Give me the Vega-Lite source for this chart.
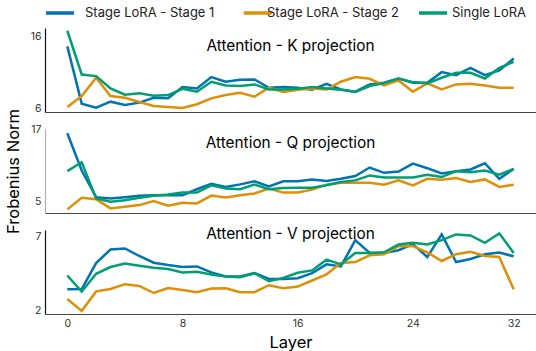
{
  "$schema": "https://vega.github.io/schema/vega-lite/v6.json",
  "padding": {"left": 4, "top": 4, "right": 0, "bottom": 0},
  "bounds": "flush",
  "spacing": 17,
  "config": {
    "font": "Inter",
    "view": {"stroke": null},
    "axis": {"grid": false, "ticks": false, "labelFontSize": 10.5, "labelColor": "#333333", "domainColor": "#333333", "domainWidth": 1.2, "labelPadding": 4, "titleFontWeight": "normal", "titleFontSize": 16.5, "titleColor": "#000000", "labelFont": "Inter", "titleFont": "Inter"},
    "title": {"font": "Inter", "fontSize": 15.4, "fontWeight": "normal", "color": "#000000"},
    "legend": {"labelFont": "Inter", "labelFontSize": 13, "labelColor": "#222222"}
  },
  "resolve": {"scale": {"color": "shared"}, "legend": {"color": "shared"}},
  "datasets": {
    "d": [
      {"p":"K","l":0,"s":"Stage LoRA - Stage 1","v":14.62},{"p":"K","l":1,"s":"Stage LoRA - Stage 1","v":6.69},{"p":"K","l":2,"s":"Stage LoRA - Stage 1","v":6.14},{"p":"K","l":3,"s":"Stage LoRA - Stage 1","v":6.96},{"p":"K","l":4,"s":"Stage LoRA - Stage 1","v":6.5},{"p":"K","l":5,"s":"Stage LoRA - Stage 1","v":6.83},{"p":"K","l":6,"s":"Stage LoRA - Stage 1","v":7.51},{"p":"K","l":7,"s":"Stage LoRA - Stage 1","v":7.42},{"p":"K","l":8,"s":"Stage LoRA - Stage 1","v":8.98},{"p":"K","l":9,"s":"Stage LoRA - Stage 1","v":8.8},{"p":"K","l":10,"s":"Stage LoRA - Stage 1","v":10.36},{"p":"K","l":11,"s":"Stage LoRA - Stage 1","v":9.72},{"p":"K","l":12,"s":"Stage LoRA - Stage 1","v":9.99},{"p":"K","l":13,"s":"Stage LoRA - Stage 1","v":10.04},{"p":"K","l":14,"s":"Stage LoRA - Stage 1","v":8.89},{"p":"K","l":15,"s":"Stage LoRA - Stage 1","v":8.98},{"p":"K","l":16,"s":"Stage LoRA - Stage 1","v":8.89},{"p":"K","l":17,"s":"Stage LoRA - Stage 1","v":8.61},{"p":"K","l":18,"s":"Stage LoRA - Stage 1","v":9.44},{"p":"K","l":19,"s":"Stage LoRA - Stage 1","v":8.66},{"p":"K","l":20,"s":"Stage LoRA - Stage 1","v":8.34},{"p":"K","l":21,"s":"Stage LoRA - Stage 1","v":9.35},{"p":"K","l":22,"s":"Stage LoRA - Stage 1","v":9.58},{"p":"K","l":23,"s":"Stage LoRA - Stage 1","v":10.17},{"p":"K","l":24,"s":"Stage LoRA - Stage 1","v":9.58},{"p":"K","l":25,"s":"Stage LoRA - Stage 1","v":9.58},{"p":"K","l":26,"s":"Stage LoRA - Stage 1","v":11.05},{"p":"K","l":27,"s":"Stage LoRA - Stage 1","v":10.63},{"p":"K","l":28,"s":"Stage LoRA - Stage 1","v":11.64},{"p":"K","l":29,"s":"Stage LoRA - Stage 1","v":10.63},{"p":"K","l":30,"s":"Stage LoRA - Stage 1","v":11.28},{"p":"K","l":31,"s":"Stage LoRA - Stage 1","v":12.93},
      {"p":"K","l":0,"s":"Stage LoRA - Stage 2","v":6.23},{"p":"K","l":1,"s":"Stage LoRA - Stage 2","v":7.74},{"p":"K","l":2,"s":"Stage LoRA - Stage 2","v":10.27},{"p":"K","l":3,"s":"Stage LoRA - Stage 2","v":7.74},{"p":"K","l":4,"s":"Stage LoRA - Stage 2","v":7.51},{"p":"K","l":5,"s":"Stage LoRA - Stage 2","v":6.92},{"p":"K","l":6,"s":"Stage LoRA - Stage 2","v":6.37},{"p":"K","l":7,"s":"Stage LoRA - Stage 2","v":6.23},{"p":"K","l":8,"s":"Stage LoRA - Stage 2","v":6.1},{"p":"K","l":9,"s":"Stage LoRA - Stage 2","v":6.6},{"p":"K","l":10,"s":"Stage LoRA - Stage 2","v":7.42},{"p":"K","l":11,"s":"Stage LoRA - Stage 2","v":7.88},{"p":"K","l":12,"s":"Stage LoRA - Stage 2","v":8.2},{"p":"K","l":13,"s":"Stage LoRA - Stage 2","v":7.65},{"p":"K","l":14,"s":"Stage LoRA - Stage 2","v":8.89},{"p":"K","l":15,"s":"Stage LoRA - Stage 2","v":8.29},{"p":"K","l":16,"s":"Stage LoRA - Stage 2","v":8.61},{"p":"K","l":17,"s":"Stage LoRA - Stage 2","v":8.8},{"p":"K","l":18,"s":"Stage LoRA - Stage 2","v":8.66},{"p":"K","l":19,"s":"Stage LoRA - Stage 2","v":9.72},{"p":"K","l":20,"s":"Stage LoRA - Stage 2","v":10.36},{"p":"K","l":21,"s":"Stage LoRA - Stage 2","v":10.13},{"p":"K","l":22,"s":"Stage LoRA - Stage 2","v":9.21},{"p":"K","l":23,"s":"Stage LoRA - Stage 2","v":9.9},{"p":"K","l":24,"s":"Stage LoRA - Stage 2","v":8.34},{"p":"K","l":25,"s":"Stage LoRA - Stage 2","v":9.49},{"p":"K","l":26,"s":"Stage LoRA - Stage 2","v":8.66},{"p":"K","l":27,"s":"Stage LoRA - Stage 2","v":9.35},{"p":"K","l":28,"s":"Stage LoRA - Stage 2","v":9.44},{"p":"K","l":29,"s":"Stage LoRA - Stage 2","v":9.21},{"p":"K","l":30,"s":"Stage LoRA - Stage 2","v":8.89},{"p":"K","l":31,"s":"Stage LoRA - Stage 2","v":8.89},
      {"p":"K","l":0,"s":"Single LoRA","v":16.78},{"p":"K","l":1,"s":"Single LoRA","v":10.72},{"p":"K","l":2,"s":"Single LoRA","v":10.5},{"p":"K","l":3,"s":"Single LoRA","v":8.8},{"p":"K","l":4,"s":"Single LoRA","v":7.93},{"p":"K","l":5,"s":"Single LoRA","v":8.11},{"p":"K","l":6,"s":"Single LoRA","v":7.79},{"p":"K","l":7,"s":"Single LoRA","v":7.88},{"p":"K","l":8,"s":"Single LoRA","v":8.75},{"p":"K","l":9,"s":"Single LoRA","v":8.34},{"p":"K","l":10,"s":"Single LoRA","v":9.72},{"p":"K","l":11,"s":"Single LoRA","v":9.21},{"p":"K","l":12,"s":"Single LoRA","v":9.12},{"p":"K","l":13,"s":"Single LoRA","v":9.35},{"p":"K","l":14,"s":"Single LoRA","v":8.66},{"p":"K","l":15,"s":"Single LoRA","v":8.66},{"p":"K","l":16,"s":"Single LoRA","v":8.75},{"p":"K","l":17,"s":"Single LoRA","v":8.98},{"p":"K","l":18,"s":"Single LoRA","v":8.8},{"p":"K","l":19,"s":"Single LoRA","v":8.61},{"p":"K","l":20,"s":"Single LoRA","v":8.29},{"p":"K","l":21,"s":"Single LoRA","v":9.12},{"p":"K","l":22,"s":"Single LoRA","v":9.53},{"p":"K","l":23,"s":"Single LoRA","v":10.17},{"p":"K","l":24,"s":"Single LoRA","v":9.67},{"p":"K","l":25,"s":"Single LoRA","v":9.49},{"p":"K","l":26,"s":"Single LoRA","v":10.27},{"p":"K","l":27,"s":"Single LoRA","v":10.95},{"p":"K","l":28,"s":"Single LoRA","v":10.95},{"p":"K","l":29,"s":"Single LoRA","v":10.17},{"p":"K","l":30,"s":"Single LoRA","v":11.64},{"p":"K","l":31,"s":"Single LoRA","v":12.47},
      {"p":"Q","l":0,"s":"Stage LoRA - Stage 1","v":16.29},{"p":"Q","l":1,"s":"Stage LoRA - Stage 1","v":10.13},{"p":"Q","l":2,"s":"Stage LoRA - Stage 1","v":5.71},{"p":"Q","l":3,"s":"Stage LoRA - Stage 1","v":5.49},{"p":"Q","l":4,"s":"Stage LoRA - Stage 1","v":5.71},{"p":"Q","l":5,"s":"Stage LoRA - Stage 1","v":5.93},{"p":"Q","l":6,"s":"Stage LoRA - Stage 1","v":6.03},{"p":"Q","l":7,"s":"Stage LoRA - Stage 1","v":6.03},{"p":"Q","l":8,"s":"Stage LoRA - Stage 1","v":6.03},{"p":"Q","l":9,"s":"Stage LoRA - Stage 1","v":7.02},{"p":"Q","l":10,"s":"Stage LoRA - Stage 1","v":7.94},{"p":"Q","l":11,"s":"Stage LoRA - Stage 1","v":7.4},{"p":"Q","l":12,"s":"Stage LoRA - Stage 1","v":7.83},{"p":"Q","l":13,"s":"Stage LoRA - Stage 1","v":8.33},{"p":"Q","l":14,"s":"Stage LoRA - Stage 1","v":7.51},{"p":"Q","l":15,"s":"Stage LoRA - Stage 1","v":8.33},{"p":"Q","l":16,"s":"Stage LoRA - Stage 1","v":8.33},{"p":"Q","l":17,"s":"Stage LoRA - Stage 1","v":8.65},{"p":"Q","l":18,"s":"Stage LoRA - Stage 1","v":8.38},{"p":"Q","l":19,"s":"Stage LoRA - Stage 1","v":8.76},{"p":"Q","l":20,"s":"Stage LoRA - Stage 1","v":9.2},{"p":"Q","l":21,"s":"Stage LoRA - Stage 1","v":10.62},{"p":"Q","l":22,"s":"Stage LoRA - Stage 1","v":9.74},{"p":"Q","l":23,"s":"Stage LoRA - Stage 1","v":9.96},{"p":"Q","l":24,"s":"Stage LoRA - Stage 1","v":11.27},{"p":"Q","l":25,"s":"Stage LoRA - Stage 1","v":10.51},{"p":"Q","l":26,"s":"Stage LoRA - Stage 1","v":9.63},{"p":"Q","l":27,"s":"Stage LoRA - Stage 1","v":10.02},{"p":"Q","l":28,"s":"Stage LoRA - Stage 1","v":10.29},{"p":"Q","l":29,"s":"Stage LoRA - Stage 1","v":11.33},{"p":"Q","l":30,"s":"Stage LoRA - Stage 1","v":8.76},{"p":"Q","l":31,"s":"Stage LoRA - Stage 1","v":10.4},
      {"p":"Q","l":0,"s":"Stage LoRA - Stage 2","v":3.69},{"p":"Q","l":1,"s":"Stage LoRA - Stage 2","v":5.6},{"p":"Q","l":2,"s":"Stage LoRA - Stage 2","v":5.38},{"p":"Q","l":3,"s":"Stage LoRA - Stage 2","v":3.85},{"p":"Q","l":4,"s":"Stage LoRA - Stage 2","v":4.12},{"p":"Q","l":5,"s":"Stage LoRA - Stage 2","v":4.4},{"p":"Q","l":6,"s":"Stage LoRA - Stage 2","v":5.05},{"p":"Q","l":7,"s":"Stage LoRA - Stage 2","v":4.29},{"p":"Q","l":8,"s":"Stage LoRA - Stage 2","v":4.78},{"p":"Q","l":9,"s":"Stage LoRA - Stage 2","v":4.67},{"p":"Q","l":10,"s":"Stage LoRA - Stage 2","v":5.98},{"p":"Q","l":11,"s":"Stage LoRA - Stage 2","v":5.65},{"p":"Q","l":12,"s":"Stage LoRA - Stage 2","v":6.03},{"p":"Q","l":13,"s":"Stage LoRA - Stage 2","v":6.31},{"p":"Q","l":14,"s":"Stage LoRA - Stage 2","v":7.13},{"p":"Q","l":15,"s":"Stage LoRA - Stage 2","v":6.47},{"p":"Q","l":16,"s":"Stage LoRA - Stage 2","v":6.47},{"p":"Q","l":17,"s":"Stage LoRA - Stage 2","v":6.96},{"p":"Q","l":18,"s":"Stage LoRA - Stage 2","v":7.78},{"p":"Q","l":19,"s":"Stage LoRA - Stage 2","v":8.11},{"p":"Q","l":20,"s":"Stage LoRA - Stage 2","v":8.11},{"p":"Q","l":21,"s":"Stage LoRA - Stage 2","v":8.11},{"p":"Q","l":22,"s":"Stage LoRA - Stage 2","v":7.78},{"p":"Q","l":23,"s":"Stage LoRA - Stage 2","v":8.49},{"p":"Q","l":24,"s":"Stage LoRA - Stage 2","v":7.67},{"p":"Q","l":25,"s":"Stage LoRA - Stage 2","v":8.76},{"p":"Q","l":26,"s":"Stage LoRA - Stage 2","v":8.6},{"p":"Q","l":27,"s":"Stage LoRA - Stage 2","v":8.87},{"p":"Q","l":28,"s":"Stage LoRA - Stage 2","v":8.22},{"p":"Q","l":29,"s":"Stage LoRA - Stage 2","v":8.65},{"p":"Q","l":30,"s":"Stage LoRA - Stage 2","v":7.4},{"p":"Q","l":31,"s":"Stage LoRA - Stage 2","v":7.78},
      {"p":"Q","l":0,"s":"Single LoRA","v":10.02},{"p":"Q","l":1,"s":"Single LoRA","v":11.49},{"p":"Q","l":2,"s":"Single LoRA","v":5.49},{"p":"Q","l":3,"s":"Single LoRA","v":4.94},{"p":"Q","l":4,"s":"Single LoRA","v":5.22},{"p":"Q","l":5,"s":"Single LoRA","v":5.6},{"p":"Q","l":6,"s":"Single LoRA","v":5.93},{"p":"Q","l":7,"s":"Single LoRA","v":6.14},{"p":"Q","l":8,"s":"Single LoRA","v":6.47},{"p":"Q","l":9,"s":"Single LoRA","v":6.47},{"p":"Q","l":10,"s":"Single LoRA","v":7.67},{"p":"Q","l":11,"s":"Single LoRA","v":7.13},{"p":"Q","l":12,"s":"Single LoRA","v":7.02},{"p":"Q","l":13,"s":"Single LoRA","v":7.78},{"p":"Q","l":14,"s":"Single LoRA","v":7.02},{"p":"Q","l":15,"s":"Single LoRA","v":7.23},{"p":"Q","l":16,"s":"Single LoRA","v":7.29},{"p":"Q","l":17,"s":"Single LoRA","v":7.29},{"p":"Q","l":18,"s":"Single LoRA","v":7.67},{"p":"Q","l":19,"s":"Single LoRA","v":8.22},{"p":"Q","l":20,"s":"Single LoRA","v":8.49},{"p":"Q","l":21,"s":"Single LoRA","v":9.31},{"p":"Q","l":22,"s":"Single LoRA","v":8.98},{"p":"Q","l":23,"s":"Single LoRA","v":8.98},{"p":"Q","l":24,"s":"Single LoRA","v":8.98},{"p":"Q","l":25,"s":"Single LoRA","v":9.42},{"p":"Q","l":26,"s":"Single LoRA","v":9.04},{"p":"Q","l":27,"s":"Single LoRA","v":10.02},{"p":"Q","l":28,"s":"Single LoRA","v":9.85},{"p":"Q","l":29,"s":"Single LoRA","v":10.13},{"p":"Q","l":30,"s":"Single LoRA","v":9.42},{"p":"Q","l":31,"s":"Single LoRA","v":10.4},
      {"p":"V","l":0,"s":"Stage LoRA - Stage 1","v":3.42},{"p":"V","l":1,"s":"Stage LoRA - Stage 1","v":3.44},{"p":"V","l":2,"s":"Stage LoRA - Stage 1","v":5.21},{"p":"V","l":3,"s":"Stage LoRA - Stage 1","v":6.13},{"p":"V","l":4,"s":"Stage LoRA - Stage 1","v":6.2},{"p":"V","l":5,"s":"Stage LoRA - Stage 1","v":5.69},{"p":"V","l":6,"s":"Stage LoRA - Stage 1","v":5.23},{"p":"V","l":7,"s":"Stage LoRA - Stage 1","v":5.07},{"p":"V","l":8,"s":"Stage LoRA - Stage 1","v":4.94},{"p":"V","l":9,"s":"Stage LoRA - Stage 1","v":4.98},{"p":"V","l":10,"s":"Stage LoRA - Stage 1","v":4.57},{"p":"V","l":11,"s":"Stage LoRA - Stage 1","v":4.29},{"p":"V","l":12,"s":"Stage LoRA - Stage 1","v":4.29},{"p":"V","l":13,"s":"Stage LoRA - Stage 1","v":4.52},{"p":"V","l":14,"s":"Stage LoRA - Stage 1","v":4.13},{"p":"V","l":15,"s":"Stage LoRA - Stage 1","v":4.13},{"p":"V","l":16,"s":"Stage LoRA - Stage 1","v":4.18},{"p":"V","l":17,"s":"Stage LoRA - Stage 1","v":4.52},{"p":"V","l":18,"s":"Stage LoRA - Stage 1","v":5.12},{"p":"V","l":19,"s":"Stage LoRA - Stage 1","v":4.98},{"p":"V","l":20,"s":"Stage LoRA - Stage 1","v":6.77},{"p":"V","l":21,"s":"Stage LoRA - Stage 1","v":5.9},{"p":"V","l":22,"s":"Stage LoRA - Stage 1","v":5.9},{"p":"V","l":23,"s":"Stage LoRA - Stage 1","v":6.08},{"p":"V","l":24,"s":"Stage LoRA - Stage 1","v":6.5},{"p":"V","l":25,"s":"Stage LoRA - Stage 1","v":5.62},{"p":"V","l":26,"s":"Stage LoRA - Stage 1","v":7.16},{"p":"V","l":27,"s":"Stage LoRA - Stage 1","v":5.28},{"p":"V","l":28,"s":"Stage LoRA - Stage 1","v":5.49},{"p":"V","l":29,"s":"Stage LoRA - Stage 1","v":5.81},{"p":"V","l":30,"s":"Stage LoRA - Stage 1","v":5.92},{"p":"V","l":31,"s":"Stage LoRA - Stage 1","v":5.67},
      {"p":"V","l":0,"s":"Stage LoRA - Stage 2","v":2.76},{"p":"V","l":1,"s":"Stage LoRA - Stage 2","v":1.95},{"p":"V","l":2,"s":"Stage LoRA - Stage 2","v":3.28},{"p":"V","l":3,"s":"Stage LoRA - Stage 2","v":3.44},{"p":"V","l":4,"s":"Stage LoRA - Stage 2","v":3.77},{"p":"V","l":5,"s":"Stage LoRA - Stage 2","v":3.65},{"p":"V","l":6,"s":"Stage LoRA - Stage 2","v":3.17},{"p":"V","l":7,"s":"Stage LoRA - Stage 2","v":3.51},{"p":"V","l":8,"s":"Stage LoRA - Stage 2","v":3.38},{"p":"V","l":9,"s":"Stage LoRA - Stage 2","v":3.22},{"p":"V","l":10,"s":"Stage LoRA - Stage 2","v":3.47},{"p":"V","l":11,"s":"Stage LoRA - Stage 2","v":3.49},{"p":"V","l":12,"s":"Stage LoRA - Stage 2","v":3.22},{"p":"V","l":13,"s":"Stage LoRA - Stage 2","v":3.22},{"p":"V","l":14,"s":"Stage LoRA - Stage 2","v":3.7},{"p":"V","l":15,"s":"Stage LoRA - Stage 2","v":3.49},{"p":"V","l":16,"s":"Stage LoRA - Stage 2","v":3.61},{"p":"V","l":17,"s":"Stage LoRA - Stage 2","v":4.02},{"p":"V","l":18,"s":"Stage LoRA - Stage 2","v":4.43},{"p":"V","l":19,"s":"Stage LoRA - Stage 2","v":5.21},{"p":"V","l":20,"s":"Stage LoRA - Stage 2","v":5.28},{"p":"V","l":21,"s":"Stage LoRA - Stage 2","v":5.74},{"p":"V","l":22,"s":"Stage LoRA - Stage 2","v":5.81},{"p":"V","l":23,"s":"Stage LoRA - Stage 2","v":6.36},{"p":"V","l":24,"s":"Stage LoRA - Stage 2","v":6.36},{"p":"V","l":25,"s":"Stage LoRA - Stage 2","v":5.94},{"p":"V","l":26,"s":"Stage LoRA - Stage 2","v":5.35},{"p":"V","l":27,"s":"Stage LoRA - Stage 2","v":5.81},{"p":"V","l":28,"s":"Stage LoRA - Stage 2","v":5.97},{"p":"V","l":29,"s":"Stage LoRA - Stage 2","v":5.69},{"p":"V","l":30,"s":"Stage LoRA - Stage 2","v":5.62},{"p":"V","l":31,"s":"Stage LoRA - Stage 2","v":3.42},
      {"p":"V","l":0,"s":"Single LoRA","v":4.36},{"p":"V","l":1,"s":"Single LoRA","v":3.26},{"p":"V","l":2,"s":"Single LoRA","v":4.48},{"p":"V","l":3,"s":"Single LoRA","v":4.94},{"p":"V","l":4,"s":"Single LoRA","v":5.17},{"p":"V","l":5,"s":"Single LoRA","v":5.03},{"p":"V","l":6,"s":"Single LoRA","v":4.89},{"p":"V","l":7,"s":"Single LoRA","v":4.8},{"p":"V","l":8,"s":"Single LoRA","v":4.57},{"p":"V","l":9,"s":"Single LoRA","v":4.61},{"p":"V","l":10,"s":"Single LoRA","v":4.43},{"p":"V","l":11,"s":"Single LoRA","v":4.29},{"p":"V","l":12,"s":"Single LoRA","v":4.25},{"p":"V","l":13,"s":"Single LoRA","v":4.52},{"p":"V","l":14,"s":"Single LoRA","v":3.97},{"p":"V","l":15,"s":"Single LoRA","v":4.2},{"p":"V","l":16,"s":"Single LoRA","v":4.55},{"p":"V","l":17,"s":"Single LoRA","v":4.71},{"p":"V","l":18,"s":"Single LoRA","v":5.44},{"p":"V","l":19,"s":"Single LoRA","v":5.12},{"p":"V","l":20,"s":"Single LoRA","v":5.9},{"p":"V","l":21,"s":"Single LoRA","v":5.9},{"p":"V","l":22,"s":"Single LoRA","v":5.94},{"p":"V","l":23,"s":"Single LoRA","v":6.47},{"p":"V","l":24,"s":"Single LoRA","v":6.59},{"p":"V","l":25,"s":"Single LoRA","v":6.47},{"p":"V","l":26,"s":"Single LoRA","v":6.77},{"p":"V","l":27,"s":"Single LoRA","v":7.16},{"p":"V","l":28,"s":"Single LoRA","v":7.09},{"p":"V","l":29,"s":"Single LoRA","v":6.59},{"p":"V","l":30,"s":"Single LoRA","v":7.23},{"p":"V","l":31,"s":"Single LoRA","v":5.9}
    ]
  },
  "vconcat": [
    {
      "width": 491, "height": 84,
      "data": {"name": "d"},
      "transform": [{"filter": "datum.p == 'K'"}],
      "title": {"text": "Attention - K projection", "orient": "top", "anchor": "middle", "frame": "group", "offset": -41, "baseline": "alphabetic"},
      "mark": {"type": "line", "strokeWidth": 2.5},
      "encoding": {
        "x": {"field": "l", "type": "quantitative", "scale": {"domain": [-1.55, 32.55], "nice": false, "zero": false}, "axis": {"labels": false, "title": null, "domainColor": "#444444"}},
        "y": {"field": "v", "type": "quantitative", "scale": {"domain": [5.53, 17.16], "nice": false, "zero": false}, "axis": {"values": [6, 16], "title": null, "domainColor": "#111111"}},
        "color": {"field": "s", "type": "nominal", "sort": ["Stage LoRA - Stage 1", "Stage LoRA - Stage 2", "Single LoRA"],
          "scale": {"domain": ["Stage LoRA - Stage 1", "Stage LoRA - Stage 2", "Single LoRA"], "range": ["#0173B2", "#DE8F05", "#029E73"]},
          "legend": {"title": null, "orient": "none", "direction": "horizontal", "legendX": 6, "legendY": -24, "symbolType": "M-2,0L2,0", "symbolStrokeWidth": 3.5, "symbolSize": 196, "labelOffset": 16, "columnPadding": 6,
            "encode": {"symbols": {"update": {"shape": {"signal": "datum.value === 'Stage LoRA - Stage 2' ? 'M-2,0M0.25,0L4.25,0' : (datum.value === 'Single LoRA' ? 'M-2,0M-1.14,0L2.86,0' : 'M-2,0L2,0')"}}}}}}
      }
    },
    {
      "width": 491, "height": 84,
      "data": {"name": "d"},
      "transform": [{"filter": "datum.p == 'Q'"}],
      "title": {"text": "Attention - Q projection", "orient": "top", "anchor": "middle", "frame": "group", "offset": -55, "baseline": "alphabetic"},
      "mark": {"type": "line", "strokeWidth": 2.5},
      "encoding": {
        "x": {"field": "l", "type": "quantitative", "scale": {"domain": [-1.55, 32.55], "nice": false, "zero": false}, "axis": {"labels": false, "title": null, "domainColor": "#444444"}},
        "y": {"field": "v", "type": "quantitative", "scale": {"domain": [3.09, 17.0], "nice": false, "zero": false}, "axis": {"values": [5, 17], "title": "Frobenius Norm", "titleX": -27, "titleY": 42, "titleBaseline": "alphabetic", "domainColor": "#b0b0b0"}},
        "color": {"field": "s", "type": "nominal", "sort": ["Stage LoRA - Stage 1", "Stage LoRA - Stage 2", "Single LoRA"]}
      }
    },
    {
      "width": 491, "height": 84,
      "data": {"name": "d"},
      "transform": [{"filter": "datum.p == 'V'"}],
      "title": {"text": "Attention - V projection", "orient": "top", "anchor": "middle", "frame": "group", "offset": -26, "baseline": "alphabetic"},
      "mark": {"type": "line", "strokeWidth": 2.5},
      "encoding": {
        "x": {"field": "l", "type": "quantitative", "scale": {"domain": [-1.55, 32.55], "nice": false, "zero": false}, "axis": {"values": [0, 8, 16, 24, 31], "labelExpr": "datum.value == 31 ? '32' : datum.label", "title": "Layer", "titlePadding": 6, "domainColor": "#444444"}},
        "y": {"field": "v", "type": "quantitative", "scale": {"domain": [1.74, 7.46], "nice": false, "zero": false}, "axis": {"values": [2, 7], "title": null, "domainColor": "#111111"}},
        "color": {"field": "s", "type": "nominal", "sort": ["Stage LoRA - Stage 1", "Stage LoRA - Stage 2", "Single LoRA"]}
      }
    }
  ]
}
